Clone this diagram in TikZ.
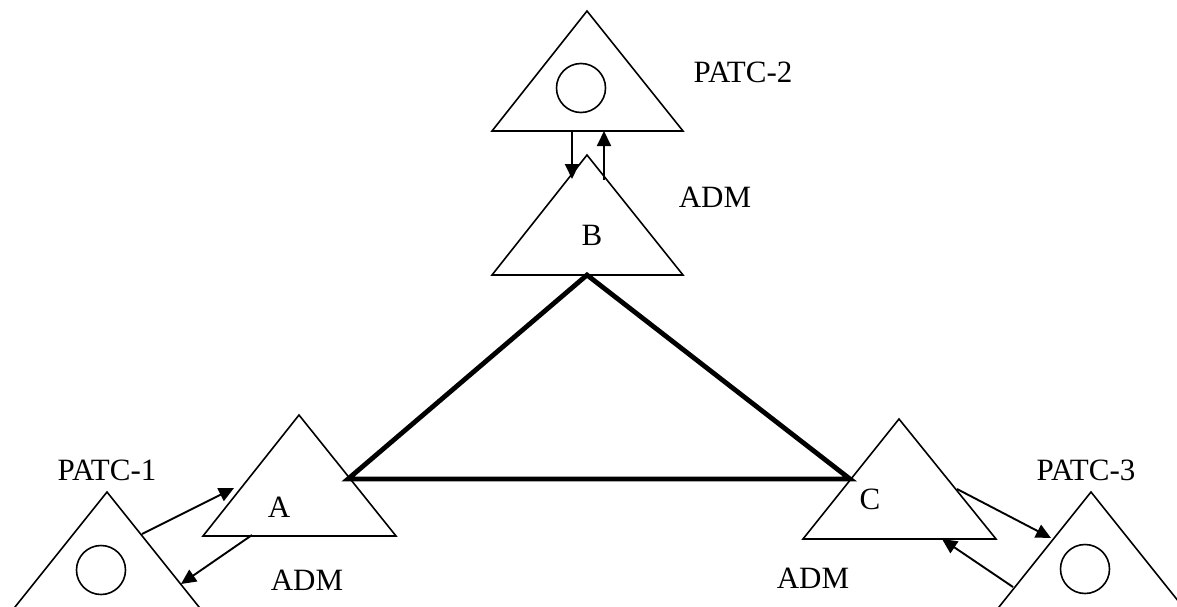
\documentclass[tikz,border=0pt]{standalone}
\usepackage{fontspec}
\setmainfont{Liberation Serif}
\usetikzlibrary{arrows.meta}
\begin{document}
\begin{tikzpicture}[x=1pt,y=-1pt,
  tri/.style={draw,line width=1.6pt,line join=miter},
  ring/.style={draw,line width=1.6pt},
  link/.style={draw,line width=4.8pt,line join=miter},
  flow/.style={draw,line width=1.9pt,-{Triangle[length=15pt,width=14pt]}},
  lbl/.style={font=\fontsize{31}{37}\selectfont,inner sep=0pt}]
\useasboundingbox (0,0) rectangle (1177,607);
\clip (0,0) rectangle (1177,607);
% triangles
\draw[tri] (587,11) -- (683,131) -- (492,131) -- cycle;
\draw[ring] (581,88) circle (24.5);
\draw[tri] (587,155) -- (683,275) -- (492,275) -- cycle;
\draw[tri] (299,415) -- (396,536) -- (203,536) -- cycle;
\draw[tri] (899,419) -- (996,539) -- (803,539) -- cycle;
\draw[tri] (107,492) -- (203,612) -- (11,612) -- cycle;
\draw[ring] (101,570) circle (24.5);
\draw[tri] (1091,492) -- (1187,612) -- (995,612) -- cycle;
\draw[ring] (1085,569) circle (24.5);
% ring links
\coordinate (pB) at (587,275);
\coordinate (pA) at (348,479);
\coordinate (pC) at (850,479);
\draw[link] (pA) -- (pB) -- (pC) -- cycle;
% labels
\node[lbl] (patc2) at (743,72) {PATC-2};
\node[lbl] (adm2) at (715,197) {ADM};
\node[lbl] (B) at (592,235) {B};
\node[lbl] (A) at (279,507) {A};
\node[lbl] (C) at (870,499) {C};
\node[lbl] (patc1) at (107,470) {PATC-1};
\node[lbl] (adm1) at (307,580) {ADM};
\node[lbl] (patc3) at (1086,470) {PATC-3};
\node[lbl] (adm3) at (813,578) {ADM};
% arrows
\coordinate (b1s) at (572,131); \coordinate (b1e) at (572,179);
\coordinate (b2s) at (604,180); \coordinate (b2e) at (604,131);
\draw[flow] (b1s) -- (b1e);
\draw[flow] (b2s) -- (b2e);
\coordinate (a1s) at (142,534); \coordinate (a1e) at (234,488);
\coordinate (a2s) at (252,535); \coordinate (a2e) at (181,584);
\draw[flow] (a1s) -- (a1e);
\draw[flow] (a2s) -- (a2e);
\coordinate (c1s) at (957,489); \coordinate (c1e) at (1051,538);
\coordinate (c2s) at (1013,587); \coordinate (c2e) at (942,539);
\draw[flow] (c1s) -- (c1e);
\draw[flow] (c2s) -- (c2e);
\end{tikzpicture}
\end{document}
